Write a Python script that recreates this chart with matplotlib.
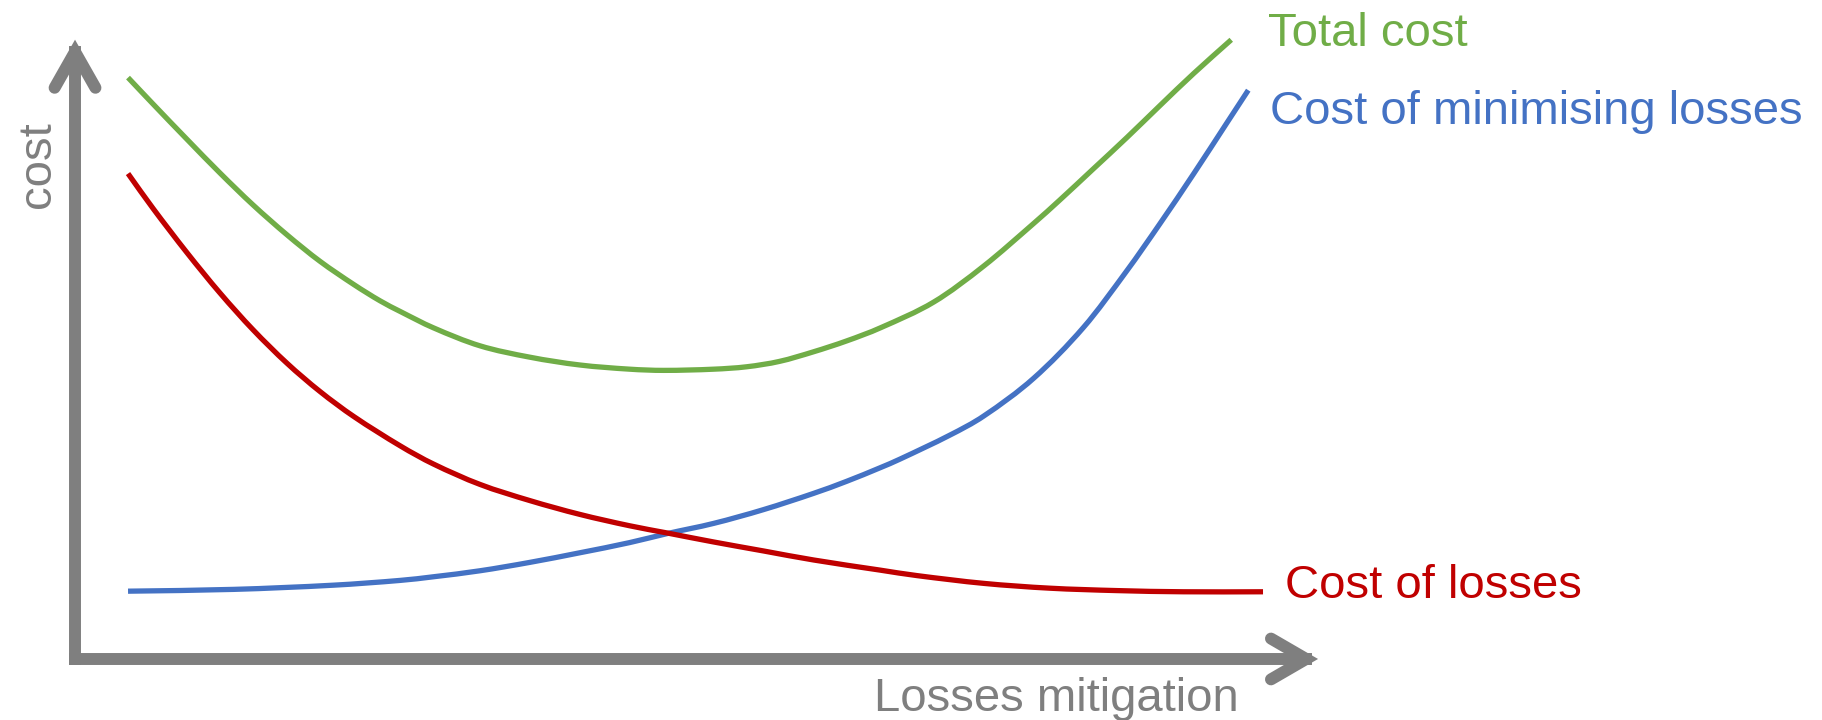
import matplotlib.pyplot as plt
from matplotlib.path import Path
from matplotlib.patches import PathPatch

# mitigation level (x) and cost (y) for each curve
mitigation_total = [0.00, 0.22, 0.52, 0.81, 1.10, 1.40, 1.69, 1.99, 2.22, 2.40, 2.69, 3.10, 3.54, 3.98,
                    4.42, 4.72, 5.16, 5.45, 5.74, 6.04, 6.33, 6.63, 7.10, 7.54, 7.98, 8.21, 8.50,
                    8.80, 9.09, 9.39, 9.72]
total_cost = [9.69, 9.25, 8.66, 8.10, 7.57, 7.07, 6.63, 6.24, 5.97, 5.79, 5.52, 5.22, 5.03, 4.90,
              4.83, 4.81, 4.83, 4.87, 4.96, 5.12, 5.30, 5.52, 5.95, 6.55, 7.26, 7.65, 8.16,
              8.69, 9.22, 9.76, 10.32]

mitigation_losses = [0.00, 0.22, 0.52, 0.81, 1.10, 1.40, 1.69, 1.99, 2.40, 2.69, 3.10, 3.54,
                     3.98, 4.42, 4.75, 5.16, 5.60, 6.04, 6.63, 6.95, 7.54, 8.12, 8.71, 9.30, 10.00]
losses_cost = [8.09, 7.51, 6.77, 6.10, 5.49, 4.93, 4.46, 4.04, 3.55, 3.25, 2.91, 2.64,
               2.41, 2.22, 2.10, 1.95, 1.80, 1.65, 1.48, 1.39, 1.26, 1.18, 1.14, 1.12, 1.12]

mitigation_minimising = [0.00, 0.93, 1.81, 2.40, 2.69, 3.10, 3.54, 3.98, 4.42, 4.75, 5.16, 5.60,
                         6.04, 6.33, 6.63, 6.80, 7.24, 7.54, 7.98, 8.42, 8.80, 9.09, 9.39,
                         9.68, 9.87]
minimising_cost = [1.13, 1.16, 1.23, 1.31, 1.37, 1.47, 1.61, 1.77, 1.94, 2.09, 2.26, 2.49,
                   2.76, 2.96, 3.19, 3.33, 3.73, 4.05, 4.68, 5.53, 6.47, 7.25, 8.09,
                   8.93, 9.48]

GREEN = "#70AD47"
BLUE = "#4472C4"
RED = "#C00000"
GREY = "#7F7F7F"

plt.rcParams["font.family"] = ["Liberation Sans", "DejaVu Sans"]


def smooth_curve(ax, xs, ys, color):
    # bezier path through the points, tangent at each point from its neighbours
    n = len(xs)
    slopes = []
    for i in range(n):
        a = max(i - 1, 0)
        b = min(i + 1, n - 1)
        slopes.append((ys[b] - ys[a]) / (xs[b] - xs[a]))
    verts = [(xs[0], ys[0])]
    codes = [Path.MOVETO]
    for i in range(n - 1):
        h = (xs[i + 1] - xs[i]) / 3
        verts += [(xs[i] + h, ys[i] + slopes[i] * h),
                  (xs[i + 1] - h, ys[i + 1] - slopes[i + 1] * h),
                  (xs[i + 1], ys[i + 1])]
        codes += [Path.CURVE4] * 3
    ax.add_patch(PathPatch(Path(verts, codes), fill=False, edgecolor=color,
                           lw=3.8, capstyle="butt", joinstyle="round"))


fig = plt.figure(figsize=(18.22, 7.2), dpi=100)
ax = fig.add_axes([0, 0, 1, 1])
ax.set_xlim(-1.128, 14.925)
ax.set_ylim(-1.017, 10.983)
ax.axis("off")

# axes drawn as thick grey arrows
y_axis_x = -0.467
ax.plot([y_axis_x, y_axis_x], [0, 10.12], color=GREY, lw=8.6, solid_capstyle="projecting")
ax.plot([y_axis_x, 10.38], [0, 0], color=GREY, lw=8.6, solid_capstyle="projecting")
ax.plot([y_axis_x - 0.18, y_axis_x, y_axis_x + 0.18], [9.52, 10.12, 9.52],
        color=GREY, lw=8.6, solid_capstyle="round", solid_joinstyle="miter")
ax.plot([10.07, 10.38, 10.07], [0.34, 0, -0.34],
        color=GREY, lw=8.6, solid_capstyle="round", solid_joinstyle="miter")

smooth_curve(ax, mitigation_total, total_cost, GREEN)
smooth_curve(ax, mitigation_minimising, minimising_cost, BLUE)
smooth_curve(ax, mitigation_losses, losses_cost, RED)

ax.text(10.04, 10.22, "Total cost", color=GREEN, fontsize=34, va="baseline")
ax.text(10.06, 8.92, "Cost of minimising losses", color=BLUE, fontsize=34, va="baseline")
ax.text(10.19, 1.02, "Cost of losses", color=RED, fontsize=34, va="baseline")

ax.text(6.57, -0.87, "Losses mitigation", color=GREY, fontsize=34, va="baseline")
ax.text(-0.687, 8.24, "cost", color=GREY, fontsize=34, rotation=90,
        rotation_mode="anchor", ha="center", va="baseline")

fig.savefig("out.png", dpi=100, facecolor="white")
